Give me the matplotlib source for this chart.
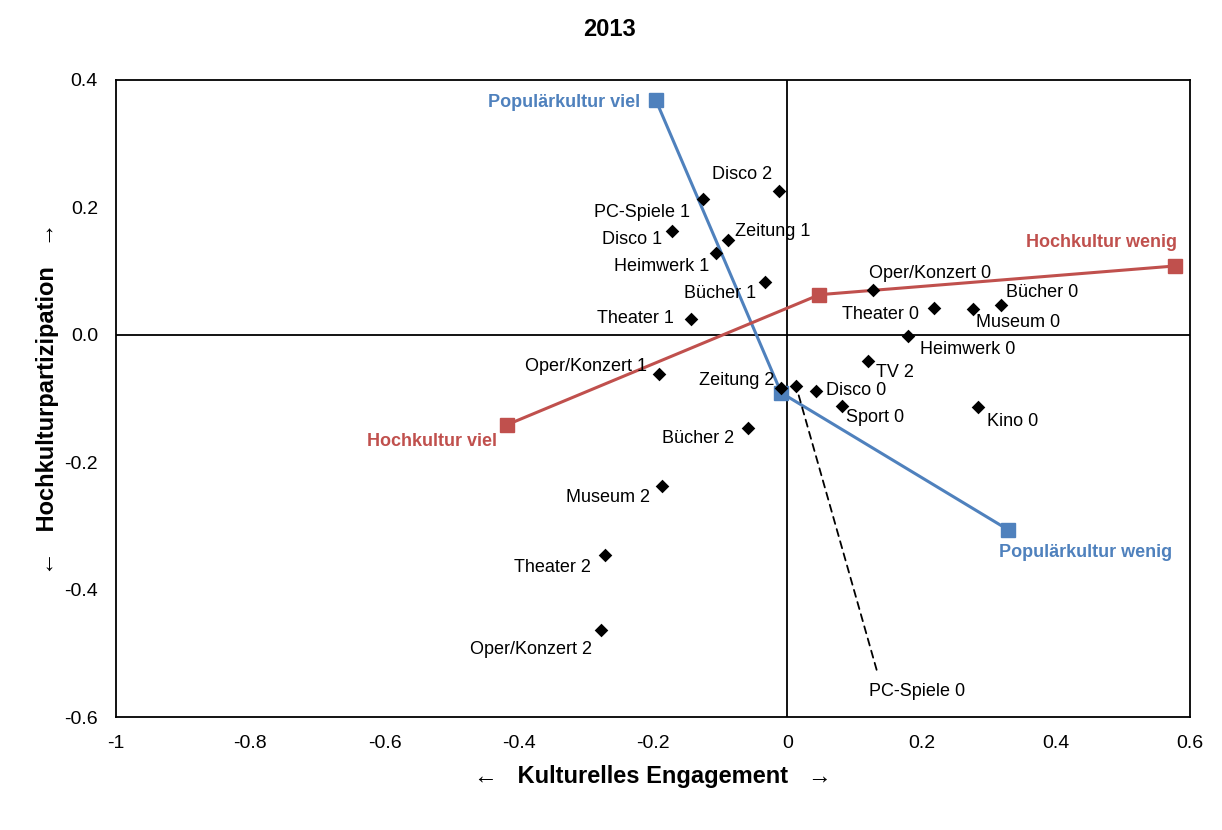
import matplotlib
matplotlib.use("Agg")
import matplotlib.pyplot as plt

plt.rcParams['font.family'] = ['Liberation Sans', 'DejaVu Sans']

# Category points (label, x, y)
point_labels = ["Disco 2", "PC-Spiele 1", "Disco 1", "Zeitung 1", "Heimwerk 1", "Bücher 1",
                "Theater 1", "Oper/Konzert 0", "Theater 0", "Museum 0", "Bücher 0",
                "Heimwerk 0", "TV 2", "Disco 0", "Sport 0", "Kino 0", "PC-Spiele 0",
                "Zeitung 2", "Oper/Konzert 1", "Bücher 2", "Museum 2", "Theater 2",
                "Oper/Konzert 2"]
point_x = [-0.013, -0.126, -0.171, -0.089, -0.106, -0.033, -0.143, 0.128, 0.219, 0.277,
           0.318, 0.180, 0.121, 0.043, 0.082, 0.284, 0.013, -0.009, -0.191, -0.058,
           -0.187, -0.271, -0.278]
point_y = [0.226, 0.213, 0.163, 0.149, 0.129, 0.083, 0.025, 0.071, 0.042, 0.041, 0.047,
           -0.002, -0.041, -0.088, -0.111, -0.113, -0.080, -0.083, -0.062, -0.146,
           -0.238, -0.345, -0.464]

# Supplementary variables (3 points each)
pop_x = [-0.196, -0.009, 0.329]
pop_y = [0.369, -0.091, -0.306]
hoch_x = [-0.417, 0.048, 0.577]
hoch_y = [-0.141, 0.063, 0.108]

BLUE = "#4F81BD"
RED = "#C0504D"
FS = 13

fig = plt.figure(figsize=(12.22, 8.30), dpi=100)
ax = fig.add_axes([116/1222, 1-717/830, (1190-116)/1222, (717-80)/830])

ax.set_xlim(-1, 0.6)
ax.set_ylim(-0.6, 0.4)

ax.axhline(0, color="black", lw=1.3, zorder=1)
ax.axvline(0, color="black", lw=1.3, zorder=1)

# label offsets in pixels (dx, dy, ha)
offsets = {
    "Disco 2": (-36, 16, "center"),
    "PC-Spiele 1": (-13, -13, "right"),
    "Disco 1": (-10, -9, "right"),
    "Zeitung 1": (7, 8, "left"),
    "Heimwerk 1": (-7, -14, "right"),
    "Bücher 1": (-9, -12, "right"),
    "Theater 1": (-17, 0, "right"),
    "Oper/Konzert 0": (-4, 16, "left"),
    "Theater 0": (-15, -6, "right"),
    "Museum 0": (3, -14, "left"),
    "Bücher 0": (5, 12, "left"),
    "Heimwerk 0": (12, -13, "left"),
    "TV 2": (8, -12, "left"),
    "Disco 0": (10, 0, "left"),
    "Sport 0": (4, -12, "left"),
    "Kino 0": (9, -15, "left"),
    "Zeitung 2": (-7, 7, "right"),
    "Oper/Konzert 1": (-12, 8, "right"),
    "Bücher 2": (-14, -11, "right"),
    "Museum 2": (-12, -11, "right"),
    "Theater 2": (-14, -13, "right"),
    "Oper/Konzert 2": (-9, -19, "right"),
}

ax.plot(pop_x, pop_y, color=BLUE, lw=2.2, marker="s", ms=10, zorder=3)
ax.plot(hoch_x, hoch_y, color=RED, lw=2.2, marker="s", ms=10, zorder=3)
ax.scatter(point_x, point_y, marker="D", s=48, color="black", zorder=4, linewidths=0)

for lab, x, y in zip(point_labels, point_x, point_y):
    if lab == "PC-Spiele 0":
        ax.annotate(lab, xy=(x, y), xytext=(121, -306), textcoords="offset pixels",
                    ha="center", va="center", fontsize=FS,
                    arrowprops=dict(arrowstyle="-", color="black", lw=1.3,
                                    linestyle=(0, (4, 3)), relpos=(0.12, 1.0),
                                    shrinkA=8, shrinkB=7))
        continue
    dx, dy, ha = offsets[lab]
    ax.annotate(lab, xy=(x, y), xytext=(dx, dy), textcoords="offset pixels",
                ha=ha, va="center", fontsize=FS, zorder=5)

ax.annotate("Populärkultur viel", xy=(pop_x[0], pop_y[0]), xytext=(-16, -3),
            textcoords="offset pixels", ha="right", va="center", fontsize=FS,
            fontweight="bold", color=BLUE)
ax.annotate("Populärkultur wenig", xy=(pop_x[2], pop_y[2]), xytext=(-9, -23),
            textcoords="offset pixels", ha="left", va="center", fontsize=FS,
            fontweight="bold", color=BLUE)
ax.annotate("Hochkultur viel", xy=(hoch_x[0], hoch_y[0]), xytext=(-10, -17),
            textcoords="offset pixels", ha="right", va="center", fontsize=FS,
            fontweight="bold", color=RED)
ax.annotate("Hochkultur wenig", xy=(hoch_x[2], hoch_y[2]), xytext=(2, 24),
            textcoords="offset pixels", ha="right", va="center", fontsize=FS,
            fontweight="bold", color=RED)

xticks = [-1, -0.8, -0.6, -0.4, -0.2, 0, 0.2, 0.4, 0.6]
xticklabels = ["-1", "-0.8", "-0.6", "-0.4", "-0.2", "0", "0.2", "0.4", "0.6"]
yticks = [-0.6, -0.4, -0.2, 0.0, 0.2, 0.4]
yticklabels = ["-0.6", "-0.4", "-0.2", "0.0", "0.2", "0.4"]
ax.set_xticks(xticks)
ax.set_xticklabels(xticklabels, fontsize=14)
ax.set_yticks(yticks)
ax.set_yticklabels(yticklabels, fontsize=14)
ax.tick_params(length=0, pad=13)

for s in ax.spines.values():
    s.set_color("black")
    s.set_linewidth(1.3)

ax.set_xlabel("\u2190   Kulturelles Engagement   \u2192", fontsize=17, fontweight="bold",
              labelpad=9)
ax.set_ylabel("\u2190   Hochkulturpartizipation   \u2192", fontsize=17, fontweight="bold",
              labelpad=4)
fig.text(610/1222, 1-29/830, "2013", ha="center", va="center", fontsize=17,
         fontweight="bold")

fig.savefig("out.png", dpi=100)
